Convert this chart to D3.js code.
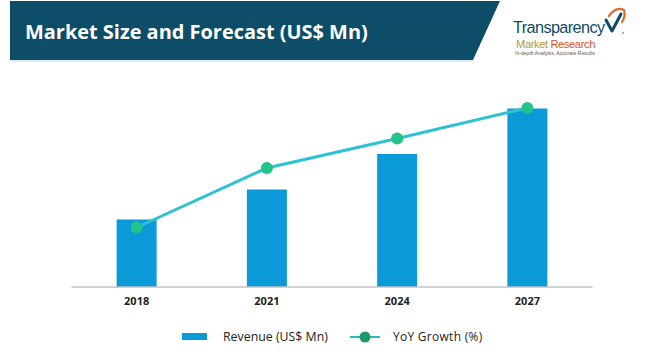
<!DOCTYPE html>
<html>
<head>
<meta charset="utf-8">
<script src="https://cdn.jsdelivr.net/npm/d3@7"></script>
<style>
  html, body { margin: 0; padding: 0; background: #fff; }
  svg { display: block; }
</style>
</head>
<body>
<svg id="chart" width="650" height="359"></svg>
<script>
// ---- data ----
const years = ["2018", "2021", "2024", "2027"];
const revenue = [67, 97, 132.5, 178];       // relative bar heights (US$ Mn, unlabelled)
const yoyGrowth = [59, 118.5, 148, 178.5];  // relative line heights (%, unlabelled)
const titleText = "Market Size and Forecast (US$ Mn)";
const legendLabels = ["Revenue (US$ Mn)", "YoY Growth (%)"];

const svg = d3.select("#chart");
const font = "'Open Sans', 'Noto Sans', sans-serif";

function fitText(sel, w) {
  const n = sel.node();
  const len = n.getComputedTextLength();
  const fs = parseFloat(sel.attr("font-size"));
  sel.attr("font-size", fs * w / len);
}

// ---- banner ----
svg.append("path")
  .attr("d", "M10,1 L500,1 L473,60 L10,60 Z")
  .attr("fill", "#0d4d68");
svg.append("line").attr("x1", 10).attr("x2", 473).attr("y1", 61).attr("y2", 61)
  .attr("stroke", "#bcd6e2").attr("stroke-width", 1);
const title = svg.append("text")
  .attr("x", 25).attr("y", 39)
  .attr("font-family", font).attr("font-weight", 700).attr("font-size", 20)
  .attr("fill", "#ffffff").text(titleText);
fitText(title, 343);

// ---- logo ----
const logo = svg.append("g");
const t1 = logo.append("text").attr("x", 513).attr("y", 32.5)
  .attr("font-family", "'Liberation Sans', Arial, sans-serif").attr("font-size", 15)
  .attr("fill", "#0e4c66").attr("letter-spacing", -0.6).text("Transparency");
fitText(t1, 91);
const t2 = logo.append("text").attr("x", 516).attr("y", 47.5)
  .attr("font-family", "'Liberation Sans', Arial, sans-serif").attr("font-size", 11)
  .attr("letter-spacing", -0.4);
t2.append("tspan").attr("fill", "#b59a3a").text("Market ");
t2.append("tspan").attr("fill", "#d3542a").text("Research");
fitText(t2, 79);
const t3 = logo.append("text").attr("x", 515).attr("y", 55)
  .attr("font-family", "'Liberation Sans', Arial, sans-serif").attr("font-size", 5)
  .attr("fill", "#555").text("In-depth Analysis, Accurate Results");
fitText(t3, 80);
// check mark
logo.append("path")
  .attr("d", "M606,20 L612,31 L621,14")
  .attr("fill", "none").attr("stroke", "#0e4c66").attr("stroke-width", 3)
  .attr("stroke-linecap", "round").attr("stroke-linejoin", "round");
logo.append("path")
  .attr("d", "M609,16 Q616,6 624,10 Q626,16 622,22")
  .attr("fill", "none").attr("stroke", "#e0672c").attr("stroke-width", 2.2)
  .attr("stroke-linecap", "round");
logo.append("circle").attr("cx", 623).attr("cy", 33).attr("r", 1).attr("fill", "#999");

// ---- scales ----
const x = d3.scaleBand().domain(years).range([71.5, 592.5])
  .paddingInner(0.693).paddingOuter(0.3465);
const y = d3.scaleLinear().domain([0, 200]).range([286.5, 86.5]);
const y2 = d3.scaleLinear().domain([0, 200]).range([286.5, 86.5]);

// ---- bars ----
svg.append("g").selectAll("rect").data(revenue).join("rect")
  .attr("x", (d, i) => x(years[i]))
  .attr("width", x.bandwidth())
  .attr("y", d => y(d))
  .attr("height", d => y(0) - y(d))
  .attr("fill", "#0a9ad7");

// ---- axis ----
const xAxis = svg.append("g").attr("transform", `translate(0,${y(0)})`)
  .call(d3.axisBottom(x).tickSize(0).tickPadding(11));
xAxis.select(".domain").attr("stroke", "#a6a6a6").attr("stroke-width", 1)
  .attr("d", `M${x.range()[0]},0.5H${x.range()[1]}`);
xAxis.selectAll("text").attr("font-family", font).attr("font-weight", 700)
  .attr("font-size", 11).attr("fill", "#222");

// ---- line ----
const line = d3.line()
  .x((d, i) => x(years[i]) + x.bandwidth() / 2)
  .y(d => y2(d));
svg.append("path").datum(yoyGrowth)
  .attr("d", line).attr("fill", "none")
  .attr("stroke", "#2cc2d2").attr("stroke-width", 3);
svg.append("g").selectAll("circle").data(yoyGrowth).join("circle")
  .attr("cx", (d, i) => x(years[i]) + x.bandwidth() / 2)
  .attr("cy", d => y2(d))
  .attr("r", 6)
  .attr("fill", "#22c48c");

// ---- legend ----
const lg = svg.append("g");
lg.append("rect").attr("x", 182).attr("y", 333).attr("width", 25).attr("height", 7)
  .attr("fill", "#0a9ad7");
const l1 = lg.append("text").attr("x", 223).attr("y", 341)
  .attr("font-family", font).attr("font-size", 11).attr("fill", "#222")
  .text(legendLabels[0]);
fitText(l1, 105);
lg.append("line").attr("x1", 350).attr("x2", 380).attr("y1", 337).attr("y2", 337)
  .attr("stroke", "#2cb6c8").attr("stroke-width", 2);
lg.append("circle").attr("cx", 365).attr("cy", 337).attr("r", 5.5).attr("fill", "#1c9a6c");
const l2 = lg.append("text").attr("x", 393).attr("y", 341)
  .attr("font-family", font).attr("font-size", 11).attr("fill", "#222")
  .attr("letter-spacing", 0.3)
  .text(legendLabels[1]);
fitText(l2, 90);
</script>
</body>
</html>
